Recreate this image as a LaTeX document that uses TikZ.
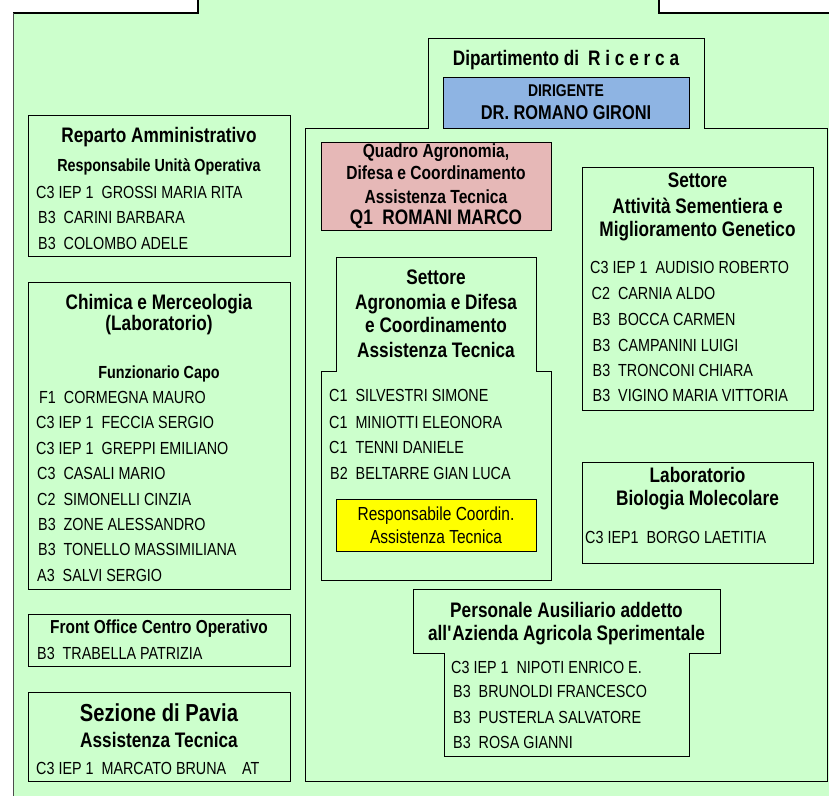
\documentclass[tikz,border=0pt]{standalone}
\usepackage{fontspec}
\setmainfont{Liberation Sans}[FakeStretch=0.82]
\definecolor{bggreen}{HTML}{CCFFCC}
\definecolor{dirblue}{HTML}{8EB4E3}
\definecolor{qpink}{HTML}{E6B8B7}
\definecolor{hiyellow}{HTML}{FFFF00}
\begin{document}
\begin{tikzpicture}[x=1pt,y=-1pt,
  frame/.style={draw=black,line width=1pt},
  ttl/.style={anchor=base,inner sep=0pt,font=\fontsize{21}{25}\selectfont\bfseries},
  subttl/.style={anchor=base,inner sep=0pt,font=\fontsize{17.5}{21}\selectfont\bfseries},
  nm/.style={anchor=base west,inner sep=0pt,font=\fontsize{17.5}{21}\selectfont}]
\useasboundingbox (0,0) rectangle (829,796);
% background
\fill[bggreen] (13,0) rectangle (829,796);
\fill[white] (13,0) rectangle (198,13);
\fill[white] (659,0) rectangle (829,13);
\draw[line width=2pt] (13,13) -- (198,13) -- (198,0);
\draw[line width=2pt] (659,0) -- (659,13) -- (829,13);
\draw[line width=0.8pt,black!70] (13,13) -- (13,796);

% left column boxes
\draw[frame] (28,115) rectangle (290,256);
\node[ttl] (rep) at (159,142.5) {Reparto Amministrativo};
\node[subttl] (repsub) at (159,171.3) {Responsabile Unità Operativa};
\node[nm] (rep1) at (36,198.3) {C3 IEP 1~~GROSSI MARIA RITA};
\node[nm] (rep2) at (38,223.3) {B3~~CARINI BARBARA};
\node[nm] (rep3) at (38,249.3) {B3~~COLOMBO ADELE};

\draw[frame] (28,282) rectangle (290,589);
\node[ttl] (chim) at (159,309.5) {Chimica e Merceologia};
\node[ttl] (chimb) at (159,330.5) {(Laboratorio)};
\node[subttl] (chimsub) at (159,378.3) {Funzionario Capo};
\node[nm] (ch1) at (39,403.3) {F1~~CORMEGNA MAURO};
\node[nm] (ch2) at (36,428.7) {C3 IEP 1~~FECCIA SERGIO};
\node[nm] (ch3) at (36,454.2) {C3 IEP 1~~GREPPI EMILIANO};
\node[nm] (ch4) at (37,479.6) {C3~~CASALI MARIO};
\node[nm] (ch5) at (37,505.0) {C2~~SIMONELLI CINZIA};
\node[nm] (ch6) at (38,530.5) {B3~~ZONE ALESSANDRO};
\node[nm] (ch7) at (38,555.9) {B3~~TONELLO MASSIMILIANA};
\node[nm] (ch8) at (37,581.3) {A3~~SALVI SERGIO};

\draw[frame] (28,614) rectangle (290,666);
\node[anchor=base,inner sep=0pt,font=\fontsize{18.8}{22}\selectfont\bfseries] (fo) at (159,633.8) {Front Office Centro Operativo};
\node[nm] (fo1) at (37,659.3) {B3~~TRABELLA PATRIZIA};

\draw[frame] (28,692) rectangle (290,781);
\node[anchor=base,inner sep=0pt,font=\fontsize{24.6}{28}\selectfont\bfseries] (pv) at (159,721.8) {Sezione di Pavia};
\node[ttl] (pvb) at (159,747.5) {Assistenza Tecnica};
\node[nm] (pv1) at (36,774.3) {C3 IEP 1~~MARCATO BRUNA~~~~AT};

% department frame
\draw[frame] (305,128) -- (428,128) -- (428,38) -- (704,38) -- (704,128) -- (827,128) -- (827,781) -- (305,781) -- cycle;
\node[ttl] (dip) at (566,65.5) {Dipartimento di\hspace{9pt}R i c e r c a};
\draw[frame,fill=dirblue] (443,77) rectangle (689,128);
\node[anchor=base,inner sep=0pt,font=\fontsize{17}{20}\selectfont\bfseries] (dir) at (566,96.1) {DIRIGENTE};
\node[anchor=base,inner sep=0pt,font=\fontsize{20}{24}\selectfont\bfseries] (dirn) at (566,119.2) {DR. ROMANO GIRONI};

% Quadro
\draw[frame,fill=qpink] (321,142) rectangle (551,230);
\node[anchor=base,inner sep=0pt,font=\fontsize{19}{22}\selectfont\bfseries] (q1) at (436,157.8) {Quadro Agronomia,};
\node[anchor=base,inner sep=0pt,font=\fontsize{19}{22}\selectfont\bfseries] (q2) at (436,179.8) {Difesa e Coordinamento};
\node[anchor=base,inner sep=0pt,font=\fontsize{19}{22}\selectfont\bfseries] (q3) at (436,203.8) {Assistenza Tecnica};
\node[ttl] (q4) at (436,224.5) {Q1~~ROMANI MARCO};

% Settore Agronomia
\draw[frame] (336,257) -- (536,257) -- (536,371) -- (551,371) -- (551,580) -- (321,580) -- (321,371) -- (336,371) -- cycle;
\node[ttl] (ag1) at (436,284.5) {Settore};
\node[ttl] (ag2) at (436,309.5) {Agronomia e Difesa};
\node[ttl] (ag3) at (436,332.5) {e Coordinamento};
\node[ttl] (ag4) at (436,357.5) {Assistenza Tecnica};
\node[nm] (agn1) at (329,401.3) {C1~~SILVESTRI SIMONE};
\node[nm] (agn2) at (329,428.3) {C1~~MINIOTTI ELEONORA};
\node[nm] (agn3) at (329,453.3) {C1~~TENNI DANIELE};
\node[nm] (agn4) at (330,479.3) {B2~~BELTARRE GIAN LUCA};
\draw[frame,fill=hiyellow] (336,499) rectangle (536,551);
\node[anchor=base,inner sep=0pt,font=\fontsize{18.9}{22}\selectfont] (y1) at (436,520.8) {Responsabile Coordin.};
\node[anchor=base,inner sep=0pt,font=\fontsize{18.9}{22}\selectfont] (y2) at (436,543.8) {Assistenza Tecnica};

% Settore Sementiera
\draw[frame] (582,167) rectangle (813,410);
\node[ttl] (se1) at (697.5,187.5) {Settore};
\node[ttl] (se2) at (697.5,213.5) {Attività Sementiera e};
\node[ttl] (se3) at (697.5,236.5) {Miglioramento Genetico};
\node[nm] (sen1) at (590,273.6) {C3 IEP 1~~AUDISIO ROBERTO};
\node[nm] (sen2) at (591.5,299.6) {C2~~CARNIA ALDO};
\node[nm] (sen3) at (592.5,325.6) {B3~~BOCCA CARMEN};
\node[nm] (sen4) at (592.5,351.3) {B3~~CAMPANINI LUIGI};
\node[nm] (sen5) at (592.5,376.3) {B3~~TRONCONI CHIARA};
\node[nm] (sen6) at (592.5,401.3) {B3~~VIGINO MARIA VITTORIA};

% Laboratorio
\draw[frame] (582,462) rectangle (813,563);
\node[ttl] (lb1) at (697.5,482.5) {Laboratorio};
\node[ttl] (lb2) at (697.5,505.5) {Biologia Molecolare};
\node[nm] (lbn1) at (585,543.3) {C3 IEP1~~BORGO LAETITIA};

% Personale
\draw[frame] (413,589) -- (720,589) -- (720,653) -- (689,653) -- (689,756) -- (444,756) -- (444,653) -- (413,653) -- cycle;
\node[ttl] (pe1) at (566.5,617.5) {Personale Ausiliario addetto};
\node[ttl] (pe2) at (566.5,640.5) {all\textquotesingle Azienda Agricola Sperimentale};
\node[nm] (pen1) at (451,673.3) {C3 IEP 1~~NIPOTI ENRICO E.};
\node[nm] (pen2) at (453,697.3) {B3~~BRUNOLDI FRANCESCO};
\node[nm] (pen3) at (453,723.3) {B3~~PUSTERLA SALVATORE};
\node[nm] (pen4) at (453,748.3) {B3~~ROSA GIANNI};
\end{tikzpicture}
\end{document}
